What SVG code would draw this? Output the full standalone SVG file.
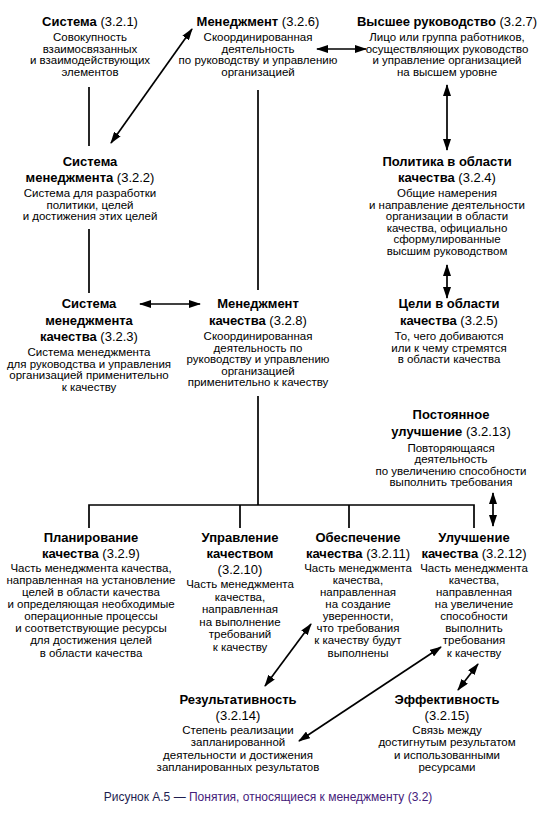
<svg xmlns="http://www.w3.org/2000/svg" width="545" height="814" viewBox="0 0 545 814">
<style>
text{font-family:"Liberation Sans",Arial,sans-serif;fill:#000;text-anchor:middle}
.t{font-size:13px;font-weight:bold}
.n{font-weight:normal}
.b{font-size:11.5px}
.c{font-size:12px;text-anchor:middle}
.ln{stroke:#000;stroke-width:1.7;fill:none}
.ar{stroke:#000;stroke-width:1.7;fill:none;marker-start:url(#ah);marker-end:url(#ah)}
</style>
<defs>
<marker id="ah" markerUnits="userSpaceOnUse" markerWidth="12" markerHeight="8" refX="11" refY="4" orient="auto-start-reverse" viewBox="0 0 12 8">
<path d="M0,0 L12,4 L0,8 z" fill="#000"/>
</marker>
</defs>
<rect width="545" height="814" fill="#fff"/>

<g id="connectors">
<line class="ln" x1="89" y1="87" x2="89" y2="146"/>
<line class="ln" x1="89" y1="229" x2="89" y2="293"/>
<line class="ln" x1="258" y1="90" x2="258" y2="290"/>
<line class="ln" x1="258" y1="396" x2="258" y2="505"/>
<path class="ln" d="M89,528 V505 H474 V528 M240,505 V528 M349,505 V528"/>
<line class="ar" x1="192" y1="29" x2="111" y2="143"/>
<line class="ar" x1="317" y1="49" x2="366" y2="49"/>
<line class="ar" x1="447" y1="85" x2="447" y2="150"/>
<line class="ar" x1="447" y1="265" x2="447" y2="298"/>
<line class="ar" x1="140" y1="304" x2="200" y2="304"/>
<line class="ar" x1="493" y1="493" x2="493" y2="526"/>
<line class="ar" x1="311" y1="624" x2="265" y2="686"/>
<line class="ar" x1="441" y1="647" x2="299" y2="741"/>
<line class="ar" x1="478" y1="664" x2="458" y2="690"/>
</g>

<g id="n321">
<text class="t" x="90" y="26">Система <tspan class="n">(3.2.1)</tspan></text>
<text class="b" x="90" y="41">Совокупность</text>
<text class="b" x="90" y="52.5">взаимосвязанных</text>
<text class="b" x="90" y="64">и взаимодействующих</text>
<text class="b" x="90" y="75.5">элементов</text>
</g>

<g id="n326">
<text class="t" x="258" y="26">Менеджмент <tspan class="n">(3.2.6)</tspan></text>
<text class="b" x="258" y="41">Скоординированная</text>
<text class="b" x="258" y="52.5">деятельность</text>
<text class="b" x="258" y="64">по руководству и управлению</text>
<text class="b" x="258" y="75.5">организацией</text>
</g>

<g id="n327">
<text class="t" x="447" y="26">Высшее руководство <tspan class="n">(3.2.7)</tspan></text>
<text class="b" x="447" y="41">Лицо или группа работников,</text>
<text class="b" x="447" y="52.5">осуществляющих руководство</text>
<text class="b" x="447" y="64">и управление организацией</text>
<text class="b" x="447" y="75.5">на высшем уровне</text>
</g>

<g id="n322">
<text class="t" x="90" y="166">Система</text>
<text class="t" x="90" y="182">менеджмента <tspan class="n">(3.2.2)</tspan></text>
<text class="b" x="90" y="197">Система для разработки</text>
<text class="b" x="90" y="208.5">политики, целей</text>
<text class="b" x="90" y="220">и достижения этих целей</text>
</g>

<g id="n324">
<text class="t" x="447" y="166">Политика в области</text>
<text class="t" x="447" y="182">качества <tspan class="n">(3.2.4)</tspan></text>
<text class="b" x="447" y="197">Общие намерения</text>
<text class="b" x="447" y="208.5">и направление деятельности</text>
<text class="b" x="447" y="220">организации в области</text>
<text class="b" x="447" y="231.5">качества, официально</text>
<text class="b" x="447" y="243">сформулированные</text>
<text class="b" x="447" y="254.5">высшим руководством</text>
</g>

<g id="n323">
<text class="t" x="89" y="308">Система</text>
<text class="t" x="89" y="324.5">менеджмента</text>
<text class="t" x="89" y="341">качества <tspan class="n">(3.2.3)</tspan></text>
<text class="b" x="89" y="356">Система менеджмента</text>
<text class="b" x="89" y="367.5">для руководства и управления</text>
<text class="b" x="89" y="379">организацией применительно</text>
<text class="b" x="89" y="390.5">к качеству</text>
</g>

<g id="n328">
<text class="t" x="258" y="308">Менеджмент</text>
<text class="t" x="258" y="324.5">качества <tspan class="n">(3.2.8)</tspan></text>
<text class="b" x="258" y="340">Скоординированная</text>
<text class="b" x="258" y="351.5">деятельность по</text>
<text class="b" x="258" y="363">руководству и управлению</text>
<text class="b" x="258" y="374.5">организацией</text>
<text class="b" x="258" y="386">применительно к качеству</text>
</g>

<g id="n325">
<text class="t" x="449" y="308">Цели в области</text>
<text class="t" x="449" y="324.5">качества <tspan class="n">(3.2.5)</tspan></text>
<text class="b" x="449" y="340">То, чего добиваются</text>
<text class="b" x="449" y="351.5">или к чему стремятся</text>
<text class="b" x="449" y="363">в области качества</text>
</g>

<g id="n3213">
<text class="t" x="451" y="419">Постоянное</text>
<text class="t" x="451" y="435.5">улучшение <tspan class="n">(3.2.13)</tspan></text>
<text class="b" x="451" y="451.5">Повторяющаяся</text>
<text class="b" x="451" y="463">деятельность</text>
<text class="b" x="451" y="474.5">по увеличению способности</text>
<text class="b" x="451" y="486">выполнить требования</text>
</g>

<g id="n329">
<text class="t" x="91" y="541.5">Планирование</text>
<text class="t" x="91" y="557.5">качества <tspan class="n">(3.2.9)</tspan></text>
<text class="b" x="91" y="571.5">Часть менеджмента качества,</text>
<text class="b" x="91" y="583.6">направленная на установление</text>
<text class="b" x="91" y="595.8">целей в области качества</text>
<text class="b" x="91" y="607.9">и определяющая необходимые</text>
<text class="b" x="91" y="620">операционные процессы</text>
<text class="b" x="91" y="632.2">и соответствующие ресурсы</text>
<text class="b" x="91" y="644.3">для достижения целей</text>
<text class="b" x="91" y="656.5">в области качества</text>
</g>

<g id="n3210">
<text class="t" x="240" y="541.5">Управление</text>
<text class="t" x="240" y="557.5">качеством</text>
<text class="t n" x="240" y="573.5">(3.2.10)</text>
<text class="b" x="240" y="588">Часть менеджмента</text>
<text class="b" x="240" y="600.5">качества,</text>
<text class="b" x="240" y="613">направленная</text>
<text class="b" x="240" y="625.5">на выполнение</text>
<text class="b" x="240" y="638">требований</text>
<text class="b" x="240" y="650.5">к качеству</text>
</g>

<g id="n3211">
<text class="t" x="358" y="541.5">Обеспечение</text>
<text class="t" x="358" y="557.5">качества <tspan class="n">(3.2.11)</tspan></text>
<text class="b" x="358" y="571.5">Часть менеджмента</text>
<text class="b" x="358" y="583.6">качества,</text>
<text class="b" x="358" y="595.8">направленная</text>
<text class="b" x="358" y="607.9">на создание</text>
<text class="b" x="358" y="620">уверенности,</text>
<text class="b" x="358" y="632.2">что требования</text>
<text class="b" x="358" y="644.3">к качеству будут</text>
<text class="b" x="358" y="656.5">выполнены</text>
</g>

<g id="n3212">
<text class="t" x="474" y="541.5">Улучшение</text>
<text class="t" x="474" y="557.5">качества <tspan class="n">(3.2.12)</tspan></text>
<text class="b" x="474" y="571.5">Часть менеджмента</text>
<text class="b" x="474" y="583.6">качества,</text>
<text class="b" x="474" y="595.8">направленная</text>
<text class="b" x="474" y="607.9">на увеличение</text>
<text class="b" x="474" y="620">способности</text>
<text class="b" x="474" y="632.2">выполнить</text>
<text class="b" x="474" y="644.3">требования</text>
<text class="b" x="474" y="656.5">к качеству</text>
</g>

<g id="n3214">
<text class="t" x="238" y="703.5">Результативность</text>
<text class="t n" x="238" y="720">(3.2.14)</text>
<text class="b" x="238" y="733.5">Степень реализации</text>
<text class="b" x="238" y="746">запланированной</text>
<text class="b" x="238" y="758.5">деятельности и достижения</text>
<text class="b" x="238" y="771">запланированных результатов</text>
</g>

<g id="n3215">
<text class="t" x="447" y="703.5">Эффективность</text>
<text class="t n" x="447" y="720">(3.2.15)</text>
<text class="b" x="447" y="733.5">Связь между</text>
<text class="b" x="447" y="746">достигнутым результатом</text>
<text class="b" x="447" y="758.5">и использованными</text>
<text class="b" x="447" y="771">ресурсами</text>
</g>

<g id="caption">
<text class="c" x="268" y="801"><tspan fill="#1e1e50">Рисунок А.5 — </tspan><tspan fill="#45207a">Понятия, относящиеся к менеджменту (3.2)</tspan></text>
</g>
</svg>
